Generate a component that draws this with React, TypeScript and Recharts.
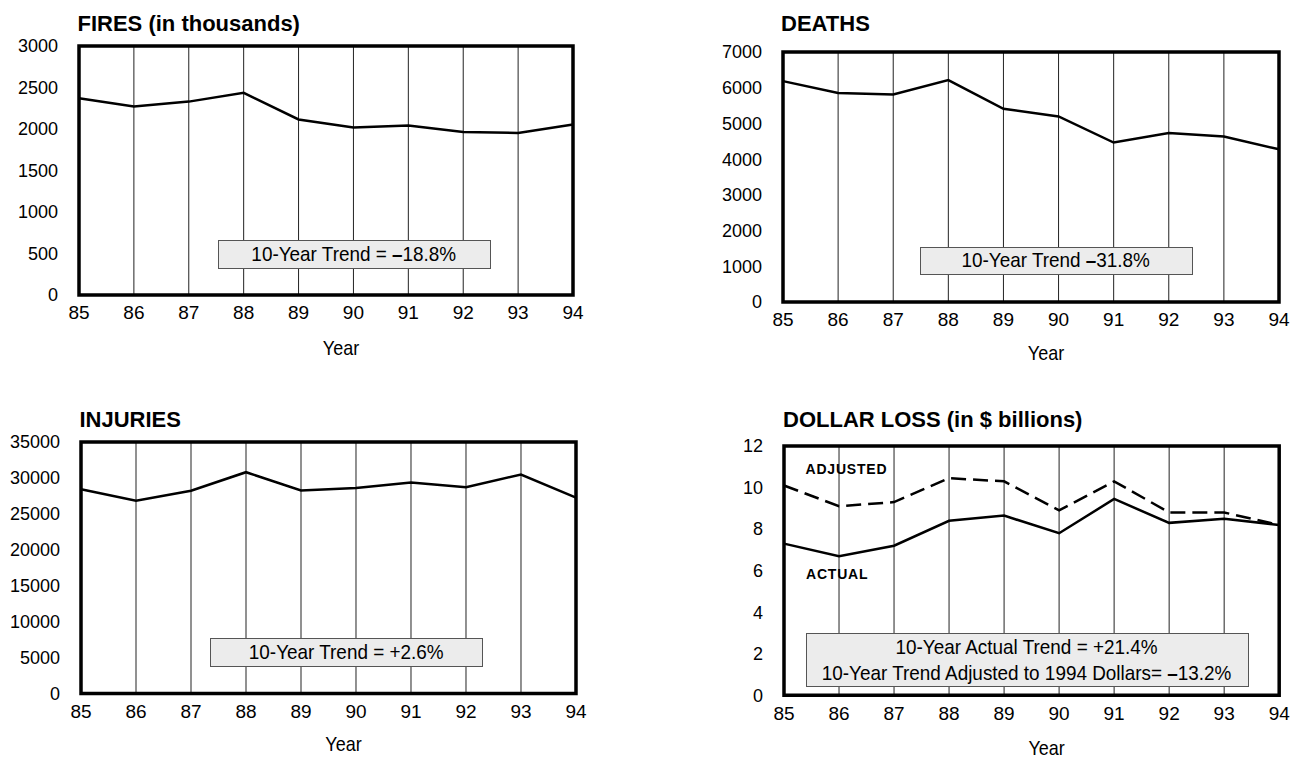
import { LineChart, Line, XAxis, YAxis, CartesianGrid, ReferenceArea } from "recharts";

const YEARS = ["85", "86", "87", "88", "89", "90", "91", "92", "93", "94"];

// fires in thousands
const FIRES = [2371, 2271.5, 2330, 2436.5, 2115, 2019, 2041.5, 1964.5, 1952.5, 2054.5];
const DEATHS = [6185, 5850, 5810, 6215, 5410, 5195, 4465, 4730, 4635, 4275];
const INJURIES = [28425, 26825, 28215, 30800, 28250, 28600, 29375, 28700, 30475, 27250];
// $ billions
const LOSS_ACTUAL = [7.3, 6.7, 7.2, 8.4, 8.65, 7.8, 9.45, 8.3, 8.5, 8.2];
const LOSS_ADJUSTED = [10.1, 9.1, 9.3, 10.45, 10.3, 8.9, 10.3, 8.8, 8.8, 8.2];

const FIRES_TICKS = [0, 500, 1000, 1500, 2000, 2500, 3000];
const DEATHS_TICKS = [0, 1000, 2000, 3000, 4000, 5000, 6000, 7000];
const INJURIES_TICKS = [0, 5000, 10000, 15000, 20000, 25000, 30000, 35000];
const LOSS_TICKS = [0, 2, 4, 6, 8, 10, 12];

const rows = YEARS.map((year, i) => ({
  year,
  fires: FIRES[i],
  deaths: DEATHS[i],
  injuries: INJURIES[i],
  actual: LOSS_ACTUAL[i],
  adjusted: LOSS_ADJUSTED[i],
}));

const FONT = '"Liberation Sans", Arial, sans-serif';
const DASH = "\u2013";

type Series = { key: string; dash?: string };

interface PanelProps {
  plot: [number, number, number, number];
  ticks: number[];
  series: Series[];
  yearBase: number;
}

// "Year" drawn a bit condensed, like the original's narrow face
const yearLabel = (props: any) => {
  const vb = props.viewBox || {};
  const cx = vb.x + vb.width / 2 + 15;
  const cy = vb.y + vb.height;
  return (
    <text
      transform={`translate(${cx},${cy}) scale(0.9,1)`}
      textAnchor="middle"
      fill="#000"
      fontSize={20}
      fontFamily={FONT}
    >
      Year
    </text>
  );
};

const Panel = ({ plot, ticks, series, yearBase }: PanelProps) => {
  const [l, t, r, b] = plot;
  const YW = 70, ML = 5, MT = 10, MR = 22, MB = 8;
  const yMax = ticks[ticks.length - 1];
  const width = r - l + YW + ML + MR;
  const height = b - t + MT + yearBase + MB;

  return (
    <div style={{ position: "absolute", left: l - YW - ML, top: t - MT }}>
      <LineChart
        width={width}
        height={height}
        data={rows}
        margin={{ top: MT, right: MR, bottom: MB, left: ML }}
      >
        <CartesianGrid horizontal={false} stroke="#222" strokeWidth={1} />
        <XAxis
          dataKey="year"
          interval={0}
          axisLine={false}
          tickLine={false}
          tickSize={0}
          tickMargin={11}
          height={yearBase}
          tick={{ fill: "#000", fontSize: 19, fontFamily: FONT }}
          label={{ position: "insideBottom", content: yearLabel }}
        />
        <YAxis
          type="number"
          domain={[0, yMax]}
          ticks={ticks}
          interval={0}
          width={YW}
          axisLine={false}
          tickLine={false}
          tickSize={0}
          tickMargin={21}
          tick={{ fill: "#000", fontSize: 18, fontFamily: FONT }}
        />
        <ReferenceArea
          x1={YEARS[0]}
          x2={YEARS[YEARS.length - 1]}
          y1={0}
          y2={yMax}
          fill="none"
          stroke="#000"
          strokeWidth={3.5}
          ifOverflow="visible"
        />
        {series.map((s) => (
          <Line
            key={s.key}
            type="linear"
            dataKey={s.key}
            stroke="#000"
            strokeWidth={2.5}
            strokeDasharray={s.dash}
            dot={false}
            activeDot={false}
            isAnimationActive={false}
          />
        ))}
      </LineChart>
    </div>
  );
};

const Title = ({ text, left, top }: { text: string; left: number; top: number }) => (
  <div
    style={{
      position: "absolute",
      left,
      top,
      fontFamily: FONT,
      fontWeight: "bold",
      fontSize: 22,
      lineHeight: "22px",
      whiteSpace: "nowrap",
    }}
  >
    {text}
  </div>
);

// bold the minus sign, as in the original
const withDash = (line: string) => {
  const parts = line.split(DASH);
  return parts.map((p, i) => (
    <span key={i}>
      {i > 0 && <b>{DASH}</b>}
      {p}
    </span>
  ));
};

const TrendBox = ({
  lines,
  left,
  top,
  width,
  height,
}: {
  lines: string[];
  left: number;
  top: number;
  width: number;
  height: number;
}) => (
  <div
    style={{
      position: "absolute",
      left,
      top,
      width,
      height,
      boxSizing: "border-box",
      background: "#ececec",
      border: "1px solid #555",
      display: "flex",
      flexDirection: "column",
      justifyContent: "center",
      alignItems: "center",
      fontFamily: FONT,
      fontSize: 21,
      lineHeight: "26.5px",
      whiteSpace: "nowrap",
    }}
  >
    {lines.map((line) => (
      <div key={line} style={{ transform: "scaleX(0.9)", transformOrigin: "center" }}>
        {withDash(line)}
      </div>
    ))}
  </div>
);

const SeriesLabel = ({ text, left, top }: { text: string; left: number; top: number }) => (
  <div
    style={{
      position: "absolute",
      left,
      top,
      fontFamily: FONT,
      fontWeight: "bold",
      fontSize: 14,
      lineHeight: "14px",
      letterSpacing: 0.8,
    }}
  >
    {text}
  </div>
);

export default function App() {
  return (
    <div
      style={{
        position: "absolute",
        left: 0,
        top: 0,
        width: 1297,
        height: 759,
        background: "#fff",
        fontFamily: FONT,
        color: "#000",
      }}
    >
      <Title text="FIRES (in thousands)" left={77.5} top={12.5} />
      <Panel plot={[79, 46, 573, 295]} ticks={FIRES_TICKS} series={[{ key: "fires" }]} yearBase={60} />
      <TrendBox lines={[`10-Year Trend = ${DASH}18.8%`]} left={217.5} top={239.5} width={273} height={29} />

      <Title text="DEATHS" left={781} top={12.5} />
      <Panel plot={[782.5, 51.5, 1278.5, 301.5]} ticks={DEATHS_TICKS} series={[{ key: "deaths" }]} yearBase={57.5} />
      <TrendBox lines={[`10-Year Trend ${DASH}31.8%`]} left={919.5} top={246.5} width={273} height={28} />

      <Title text="INJURIES" left={79.5} top={409} />
      <Panel plot={[81, 441.7, 576, 693.3]} ticks={INJURIES_TICKS} series={[{ key: "injuries" }]} yearBase={57} />
      <TrendBox lines={["10-Year Trend = +2.6%"]} left={210} top={637.5} width={273} height={29} />

      <Title text="DOLLAR LOSS (in $ billions)" left={783} top={409} />
      <Panel
        plot={[784.4, 446, 1279.6, 695.3]}
        ticks={LOSS_TICKS}
        series={[{ key: "adjusted", dash: "15 7" }, { key: "actual" }]}
        yearBase={59.5}
      />
      <SeriesLabel text="ADJUSTED" left={805.5} top={461.5} />
      <SeriesLabel text="ACTUAL" left={806} top={567} />
      <TrendBox
        lines={[
          "10-Year Actual Trend = +21.4%",
          `10-Year Trend Adjusted to 1994 Dollars= ${DASH}13.2%`,
        ]}
        left={805.5}
        top={633}
        width={443}
        height={54}
      />
    </div>
  );
}
